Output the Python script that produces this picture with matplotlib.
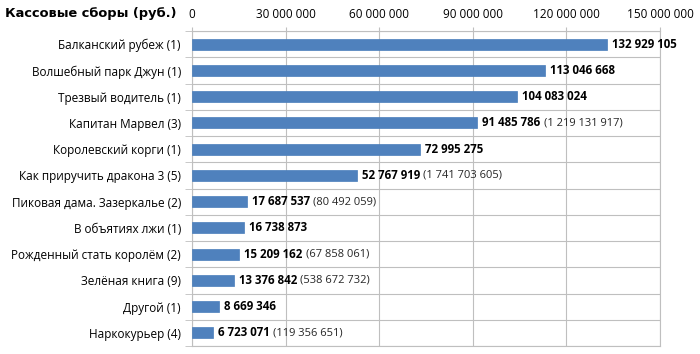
import numpy as np
import matplotlib
matplotlib.use('Agg')
import matplotlib.pyplot as plt
from matplotlib import transforms
from matplotlib.ticker import FixedLocator, FuncFormatter

plt.rcParams['font.family'] = ['Open Sans', 'DejaVu Sans']

# Data
films = ['Балканский рубеж (1)', 'Волшебный парк Джун (1)', 'Трезвый водитель (1)',
         'Капитан Марвел (3)', 'Королевский корги (1)', 'Как приручить дракона 3 (5)',
         'Пиковая дама. Зазеркалье (2)', 'В объятиях лжи (1)', 'Рожденный стать королём (2)',
         'Зелёная книга (9)', 'Другой (1)', 'Наркокурьер (4)']
week_gross = [132929105, 113046668, 104083024, 91485786, 72995275, 52767919,
              17687537, 16738873, 15209162, 13376842, 8669346, 6723071]
total_gross = [None, None, None, 1219131917, None, 1741703605,
               80492059, None, 67858061, 538672732, None, 119356651]

def fmt(v):
    return f'{int(v):,}'.replace(',', ' ')

fig = plt.figure(figsize=(7, 3.54), dpi=100)
ax = fig.add_axes([192/700, 1 - 346/354, (660 - 192)/700, (346 - 31)/354])

y = np.arange(len(films))
ax.barh(y, week_gross, height=0.42, color='#4F81BD', edgecolor='#4A7EBB', linewidth=0.5, zorder=3)

ax.set_xlim(0, 150000000)
ax.set_ylim(len(films) - 0.5, -0.5)

# x axis on top
ax.xaxis.tick_top()
ax.set_xticks(np.arange(0, 150000001, 30000000))
ax.xaxis.set_major_formatter(FuncFormatter(lambda v, p: fmt(v)))
ax.tick_params(axis='x', length=3, color='#BFBFBF', labelsize=8.5, pad=4)
ax.grid(axis='x', color='#BFBFBF', linewidth=0.8, zorder=0)

# y axis: category labels, boundaries as gridlines
ax.set_yticks(y)
ax.set_yticklabels(films)
ax.yaxis.set_minor_locator(FixedLocator(np.arange(-0.5, len(films), 1)))
ax.tick_params(axis='y', which='major', length=0, labelsize=8.5, pad=8)
ax.tick_params(axis='y', which='minor', length=5, color='#BFBFBF')
ax.grid(axis='y', which='minor', color='#BFBFBF', linewidth=0.8, zorder=0)

for s in ax.spines.values():
    s.set_color('#BFBFBF')
    s.set_linewidth(0.8)

# value labels: bold week gross, then total in brackets
fig.canvas.draw()
renderer = fig.canvas.get_renderer()
for i, (v, tot) in enumerate(zip(week_gross, total_gross)):
    t0 = transforms.offset_copy(ax.transData, fig=fig, x=5, y=0, units='dots')
    txt = ax.text(v, i, fmt(v), transform=t0, va='center', ha='left',
                  fontsize=8.3, fontweight='bold', color='black')
    if tot is not None:
        txt.draw(renderer)
        ex = txt.get_window_extent(renderer)
        t1 = transforms.offset_copy(ax.transData, fig=fig, x=5 + ex.width + 3, y=0, units='dots')
        ax.text(v, i, f'({fmt(tot)})', transform=t1, va='center', ha='left',
                fontsize=8, color='#262626')

fig.text(5/700, 1 - 14/354, 'Кассовые сборы (руб.)', fontsize=9.4, fontweight='bold',
         family='DejaVu Sans', va='center', ha='left')

fig.savefig('out.png', dpi=100)
